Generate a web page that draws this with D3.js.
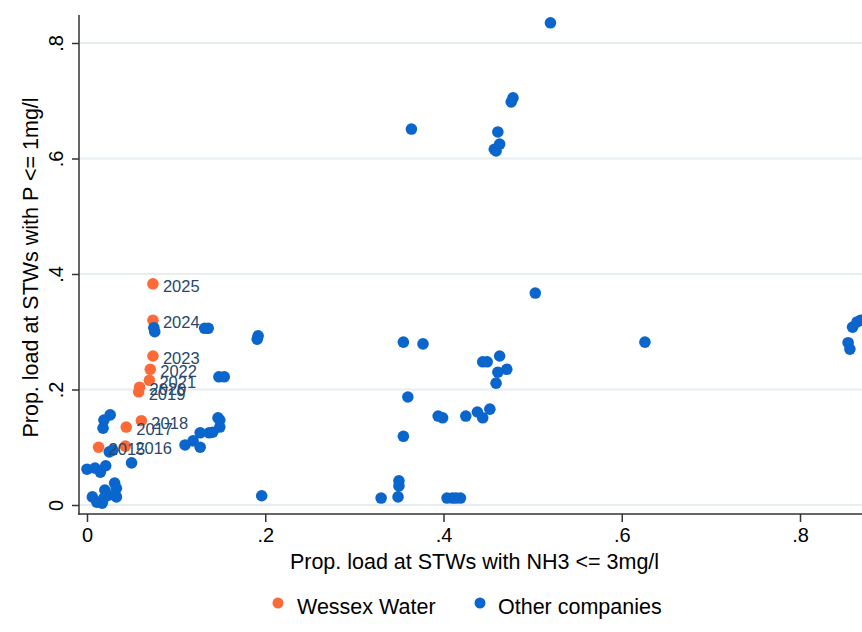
<!DOCTYPE html>
<html><head><meta charset="utf-8">
<script src="https://cdn.jsdelivr.net/npm/d3@7"></script>
<style>
body{margin:0;background:#fff}
svg{display:block}
text{font-family:"Liberation Sans",Arial,Helvetica,sans-serif}
</style>
</head><body>
<svg id="chart" width="862" height="632"></svg>
<script>
// ---- data ----
const wessexYears = ["2015","2016","2017","2018","2019","2020","2021","2022","2023","2024","2025"];
const wessexX = [0.013,0.043,0.044,0.061,0.058,0.059,0.070,0.071,0.074,0.074,0.074];
const wessexY = [0.100,0.102,0.135,0.146,0.196,0.204,0.216,0.235,0.258,0.320,0.383];

const otherX = [
  0.000,0.009,0.015,0.021,0.006,0.011,0.017,0.020,0.024,0.031,0.033,0.033,0.019,
  0.026,0.019,0.018,0.025,0.029,0.050,0.075,0.076,
  0.110,0.119,0.127,0.127,0.137,0.141,0.149,0.149,0.148,0.154,0.147,0.132,0.136,
  0.192,0.191,0.196,
  0.330,0.349,0.350,0.350,0.355,0.360,0.355,0.377,0.364,
  0.394,0.399,0.404,0.410,0.414,0.419,0.425,0.438,0.444,0.452,
  0.444,0.449,0.463,0.471,0.461,0.459,0.503,
  0.461,0.463,0.459,0.457,0.478,0.476,0.520,0.626,
  0.868,0.864,0.859,0.854,0.856
];
const otherY = [
  0.062,0.064,0.057,0.068,0.014,0.005,0.003,0.026,0.017,0.038,0.029,0.014,0.012,
  0.156,0.147,0.133,0.092,0.095,0.073,0.307,0.300,
  0.104,0.111,0.125,0.100,0.125,0.126,0.147,0.135,0.222,0.222,0.151,0.306,0.306,
  0.293,0.287,0.016,
  0.012,0.014,0.042,0.033,0.119,0.187,0.282,0.279,0.651,
  0.154,0.151,0.012,0.012,0.012,0.012,0.154,0.161,0.151,0.166,
  0.248,0.248,0.258,0.235,0.230,0.211,0.367,
  0.646,0.625,0.613,0.616,0.705,0.698,0.835,0.282,
  0.320,0.317,0.308,0.281,0.270
];

const xTicks = [0,0.2,0.4,0.6,0.8];
const yTicks = [0,0.2,0.4,0.6,0.8];
const xTitle = "Prop. load at STWs with NH3 <= 3mg/l";
const yTitle = "Prop. load at STWs with P <= 1mg/l";
const legendLabels = ["Wessex Water","Other companies"];

// ---- layout ----
const svg = d3.select("#chart");
const plotLeft = 79, plotRight = 870, plotTop = 15, plotBottom = 514;
const x = d3.scaleLinear().domain([0,0.8]).range([87,800]);
const y = d3.scaleLinear().domain([0,0.8]).range([505,43]);
const orange = "#fc6a37", blue = "#0a66cc", labelCol = "#27476b";
const fmt = d => d === 0 ? "0" : d3.format(".1f")(d).replace(/^0/,"");

// gridlines
svg.append("g").selectAll("line").data(yTicks).join("line")
  .attr("x1",plotLeft).attr("x2",plotRight)
  .attr("y1",d=>y(d)).attr("y2",d=>y(d))
  .attr("stroke","#e6eef1").attr("stroke-width",2);

// x axis
const gx = svg.append("g").attr("transform",`translate(0,${plotBottom})`)
  .call(d3.axisBottom(x).tickValues(xTicks).tickFormat(fmt).tickSize(8).tickPadding(6));
gx.select(".domain").remove();
gx.selectAll(".tick line").attr("stroke","#333").attr("stroke-width",1.5);
gx.selectAll(".tick text").attr("font-size",20).attr("fill","#000")
  .attr("font-family","'Liberation Sans',Arial,sans-serif");
svg.append("line").attr("x1",plotLeft-1).attr("x2",plotRight).attr("y1",plotBottom).attr("y2",plotBottom)
  .attr("stroke","#333").attr("stroke-width",1.5);

// y axis
const gy = svg.append("g").attr("transform",`translate(${plotLeft},0)`)
  .call(d3.axisLeft(y).tickValues(yTicks).tickFormat(fmt).tickSize(7).tickPadding(0));
gy.select(".domain").remove();
gy.selectAll(".tick line").attr("stroke","#333").attr("stroke-width",1.5);
gy.selectAll(".tick text").attr("font-size",20).attr("fill","#000")
  .attr("font-family","'Liberation Sans',Arial,sans-serif")
  .attr("text-anchor","middle").attr("dy",null).attr("x",null)
  .attr("transform","translate(-16,0) rotate(-90)")
  .attr("y",0).attr("dominant-baseline","auto");
svg.append("line").attr("x1",plotLeft).attr("x2",plotLeft).attr("y1",plotTop).attr("y2",plotBottom+0.75)
  .attr("stroke","#333").attr("stroke-width",1.5);

// axis titles
svg.append("text").attr("x",(plotLeft+plotRight)/2).attr("y",569)
  .attr("text-anchor","middle").attr("font-size",21.5).attr("fill","#000").text(xTitle);
svg.append("text").attr("transform",`translate(38,${(plotTop+plotBottom)/2+3}) rotate(-90)`)
  .attr("text-anchor","middle").attr("font-size",21.5).attr("fill","#000").text(yTitle);

// points
const wessex = wessexYears.map((yr,i)=>({yr, x:wessexX[i], y:wessexY[i]}));
const others = otherX.map((v,i)=>({x:v, y:otherY[i]}));

svg.append("g").selectAll("circle").data(wessex).join("circle")
  .attr("cx",d=>x(d.x)).attr("cy",d=>y(d.y)).attr("r",5.8).attr("fill",orange);

svg.append("g").selectAll("circle").data(others).join("circle")
  .attr("cx",d=>x(d.x)).attr("cy",d=>y(d.y)).attr("r",5.8).attr("fill",blue);

svg.append("g").selectAll("text").data(wessex).join("text")
  .attr("x",d=>x(d.x)+10).attr("y",d=>y(d.y)+8)
  .attr("font-size",16.5).attr("fill",labelCol).text(d=>d.yr);

// legend
const leg = svg.append("g");
const legItems = [{label:legendLabels[0], c:orange, cx:278, tx:297},
                  {label:legendLabels[1], c:blue, cx:480, tx:498}];
legItems.forEach(it=>{
  leg.append("circle").attr("cx",it.cx).attr("cy",603).attr("r",5.5).attr("fill",it.c);
  leg.append("text").attr("x",it.tx).attr("y",614).attr("font-size",21.5).attr("fill","#000").text(it.label);
});
</script>
</body></html>
